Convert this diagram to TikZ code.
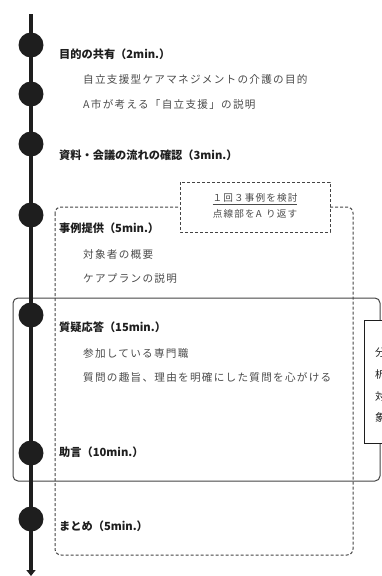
\documentclass[tikz,border=0pt]{standalone}
\usepackage{fontspec}
\setmainfont{Noto Sans CJK JP}
\newfontfamily\jpsub[LetterSpace=12]{Noto Sans CJK JP}
\usetikzlibrary{arrows.meta}
\definecolor{ink}{HTML}{1E1E1E}
\definecolor{subgray}{HTML}{4A4A4A}
\definecolor{framegray}{HTML}{444444}
\tikzset{
  dot/.style={circle, fill=ink, minimum size=25pt, inner sep=0pt},
  titletext/.style={anchor=west, inner sep=0pt, text=ink, font=\fontsize{11.2}{13}\selectfont\bfseries},
  subtext/.style={anchor=west, inner sep=0pt, text=subgray, font=\fontsize{10.6}{12}\selectfont\jpsub},
  notetext/.style={inner sep=0pt, text=subgray, font=\fontsize{9.6}{11}\selectfont\jpsub},
  sidetext/.style={anchor=west, inner sep=0pt, text=ink, font=\fontsize{10.5}{12}\selectfont},
  dashbox/.style={draw=framegray, line width=1pt, dash pattern=on 3pt off 2pt},
  solidbox/.style={draw=framegray, line width=1pt, rounded corners=5pt},
}
\begin{document}
\begin{tikzpicture}[x=1pt,y=-1pt]
\useasboundingbox (0,0) rectangle (382,576);
\clip (0,0) rectangle (382,576);
% solid group frame
\draw[solidbox] (13,298) rectangle (380,481);
% big dashed frame
\draw[dashbox, rounded corners=6pt] (55,207) rectangle (353,555);
% small note box
\draw[dashbox, fill=white] (180,182) rectangle (330,232);
\node[notetext] (n1) at (255,199) {\underline{１回３事例を検討}};
\node[notetext] (n2) at (255,213.5) {点線部をA\hspace{0.45em}り返す};
% side box
\draw[draw=ink, line width=0.8pt, fill=white] (364,320) rectangle (392,443);
\node[sidetext] (s1) at (375,353) {分};
\node[sidetext] (s2) at (375,375) {析};
\node[sidetext] (s3) at (375,396) {対};
\node[sidetext] (s4) at (375,417) {象};
% timeline
\coordinate (top) at (31,14);
\coordinate (bottom) at (31,576);
\draw[ink, line width=3.5pt, -{Triangle[width=9pt,length=6pt]}] (top) -- (bottom);
\node[dot] (c1) at (31,45) {};
\node[dot] (c2) at (31,94) {};
\node[dot] (c3) at (31,144) {};
\node[dot] (c4) at (31,215) {};
\node[dot] (c5) at (31,315) {};
\node[dot] (c6) at (31,453) {};
\node[dot] (c7) at (31,519) {};
% texts
\node[titletext] (t1) at (59,54) {目的の共有（2min.）};
\node[subtext] (a1) at (83,79) {自立支援型ケアマネジメントの介護の目的};
\node[subtext] (a2) at (83,104) {A市が考える「自立支援」の説明};
\node[titletext] (t2) at (59,155) {資料・会議の流れの確認（3min.）};
\node[titletext] (t3) at (59,228) {事例提供（5min.）};
\node[subtext] (b1) at (83,254) {対象者の概要};
\node[subtext] (b2) at (83,278) {ケアプランの説明};
\node[titletext] (t4) at (59,327) {質疑応答（15min.）};
\node[subtext] (d1) at (83,353) {参加している専門職};
\node[subtext] (d2) at (83,377) {質問の趣旨、理由を明確にした質問を心がける};
\node[titletext] (t5) at (59,452) {助言（10min.）};
\node[titletext] (t6) at (59,526) {まとめ（5min.）};
\end{tikzpicture}
\end{document}
